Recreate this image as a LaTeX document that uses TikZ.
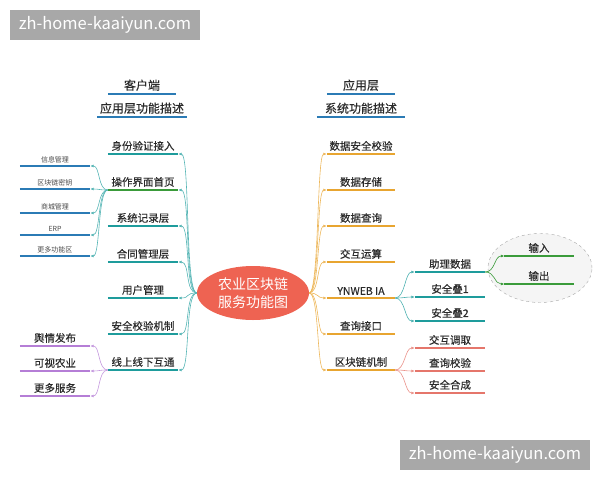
\documentclass[tikz,border=0pt]{standalone}
\usepackage{fontspec}
\newfontfamily\cjk{Noto Sans CJK SC}
\newfontfamily\cjkm{Noto Sans CJK SC}[FakeBold=0.3]
\usetikzlibrary{arrows.meta,shapes.geometric}
\definecolor{tealbar}{HTML}{1E9C9C}
\definecolor{greenbar}{HTML}{3A9B3A}
\definecolor{bluebar}{HTML}{2B7BB5}
\definecolor{purplebar}{HTML}{B57ED6}
\definecolor{orangebar}{HTML}{E8A530}
\definecolor{redbar}{HTML}{E5766B}
\definecolor{hubred}{HTML}{EE6352}
\definecolor{wmgray}{HTML}{A8A8A8}
\definecolor{ink}{HTML}{2A2A2A}
\begin{document}
\begin{tikzpicture}[x=1pt,y=-1pt,
    item/.style={anchor=south,text=ink,inner xsep=0pt,inner ysep=3pt,
        minimum width=70pt,font=\cjkm\fontsize{10.5}{12}\selectfont},
    small/.style={item,text=ink!85,font=\cjk\fontsize{7}{8}\selectfont},
    head/.style={item,font=\cjkm\fontsize{12}{14}\selectfont},
    bar/.style={line width=2.4pt},
    link/.style={line width=0.6pt,-{Latex[length=3.5pt,width=3pt]}},
    wmbox/.style={fill=wmgray,text=white,minimum width=190pt,minimum height=30pt,
        inner sep=0pt,font=\cjk\fontsize{16.5}{18}\selectfont},
  ]
  \useasboundingbox (0,0) rectangle (600,480);

  % watermarks
  \node[wmbox] (wmtop) at (105,25) {zh-home-kaaiyun.com};
  \node[wmbox] (wmbot) at (495,455) {zh-home-kaaiyun.com};

  % centre
  \node[ellipse,fill=hubred,text=white,minimum width=112pt,minimum height=54pt,
        inner sep=0pt,align=center,font=\cjk\fontsize{14}{18}\selectfont]
        (hub) at (253,293) {农业区块链\\服务功能图};

  % headings
  \node[head,minimum width=68pt] (hL1) at (142,94) {客户端};
  \node[head,minimum width=89pt] (hL2) at (142,117) {应用层功能描述};
  \node[head,minimum width=68pt] (hR1) at (361,94) {应用层};
  \node[head,minimum width=88pt] (hR2) at (361,117) {系统功能描述};
  \foreach \n in {hL1,hL2,hR1,hR2}
    \draw[bar,bluebar] (\n.south west) -- (\n.south east);

  % left branches
  \foreach \t/\y/\c [count=\i] in {身份验证接入/154/tealbar,操作界面首页/190/greenbar,
      系统记录层/226/tealbar,合同管理层/262/tealbar,用户管理/298/tealbar,
      安全校验机制/334/tealbar,线上线下互通/370/tealbar} {
    \node[item] (L\i) at (143,\y) {\t};
    \draw[bar,\c] (L\i.south west) -- (L\i.south east);
    \draw[link,tealbar!75] (hub.west) .. controls +(-12,0) and +(12,0) .. (L\i.south east);
  }
  \foreach \t/\y [count=\i] in {信息管理/166,区块链密钥/189,商城管理/213,ERP/235,更多功能区/256} {
    \node[small] (S\i) at (55,\y) {\t};
    \draw[bar,bluebar] (S\i.south west) -- (S\i.south east);
    \draw[link,tealbar!75] (L2.south west) .. controls +(-10,0) and +(10,0) .. (S\i.south east);
  }
  \foreach \t/\y [count=\i] in {舆情发布/346,可视农业/371,更多服务/396} {
    \node[item] (P\i) at (55,\y) {\t};
    \draw[bar,purplebar] (P\i.south west) -- (P\i.south east);
    \draw[link,purplebar!80] (L7.south west) .. controls +(-10,0) and +(10,0) .. (P\i.south east);
  }

  % right branches
  \foreach \t/\y [count=\i] in {数据安全校验/154,数据存储/190,数据查询/226,交互运算/262,
      YNWEB IA/298,查询接口/334,区块链机制/370} {
    \node[item,minimum width=68pt] (R\i) at (361,\y) {\t};
    \draw[bar,orangebar] (R\i.south west) -- (R\i.south east);
    \draw[link,orangebar!80] (hub.east) .. controls +(10,0) and +(-10,0) .. (R\i.south west);
  }
  \foreach \t/\y [count=\i] in {助理数据/272,安全叠1/297,安全叠2/321} {
    \node[item] (T\i) at (450,\y) {\t};
    \draw[bar,tealbar] (T\i.south west) -- (T\i.south east);
    \draw[link,tealbar!80] (R5.south east) .. controls +(10,0) and +(-10,0) .. (T\i.south west);
  }
  \foreach \t/\y [count=\i] in {交互调取/348,查询校验/371,安全合成/393} {
    \node[item] (B\i) at (450,\y) {\t};
    \draw[bar,redbar] (B\i.south west) -- (B\i.south east);
    \draw[link,redbar!80] (R7.south east) .. controls +(10,0) and +(-10,0) .. (B\i.south west);
  }

  % grouped outputs of 助理数据
  \node[ellipse,draw=gray!70,dashed,fill=gray!8,minimum width=104pt,
        minimum height=69pt] (grp) at (540,268) {};
  \foreach \t/\y [count=\i] in {输入/256,输出/284} {
    \node[item,minimum width=69pt] (G\i) at (539,\y) {\t};
    \draw[bar,greenbar] (G\i.south west) -- (G\i.south east);
    \draw[link,greenbar] (T1.south east) .. controls +(10,0) and +(-10,0) .. (G\i.south west);
  }
\end{tikzpicture}
\end{document}
